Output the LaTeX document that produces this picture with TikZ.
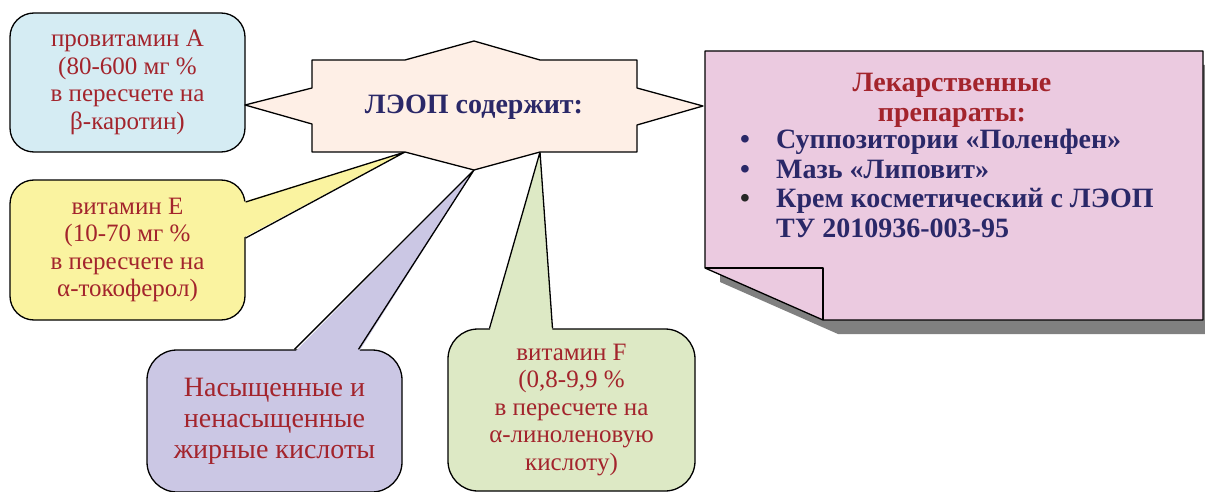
\documentclass[tikz,border=0pt]{standalone}
\usepackage{fontspec}
\setmainfont{Liberation Serif}
\usepackage{array}

\definecolor{txtred}{RGB}{163,36,44}
\definecolor{txtnavy}{RGB}{42,40,104}
\definecolor{fillblue}{RGB}{213,236,243}
\definecolor{fillyellow}{RGB}{250,243,160}
\definecolor{filllilac}{RGB}{203,199,228}
\definecolor{fillgreen}{RGB}{221,233,197}
\definecolor{fillpeach}{RGB}{254,239,230}
\definecolor{fillpink}{RGB}{235,202,224}

\tikzset{
  outline/.style={draw=black, line width=1.3pt, line join=round},
  bubble/.style={outline, rounded corners=24pt, align=center, text=txtred, inner sep=0pt,
    font=\fontsize{25}{27.5}\selectfont},
}

\begin{document}
\begin{tikzpicture}[x=1pt, y=-1pt]
\useasboundingbox[fill=white] (0,0) rectangle (1205,492);
% vertices of the star the pointers meet
\coordinate (starW) at (245,105);
\coordinate (starE) at (703,106);
\coordinate (starSW) at (405,152);
\coordinate (starS) at (474,170);
\coordinate (starSE) at (540,152);
% boxes round the star
\node[bubble, fill=fillblue, minimum width=235pt, minimum height=139pt] (provitA) at (127.5,82.5)
  {провитамин А\\(80-600 мг \%\\в пересчете на\\β-каротин)};
\node[bubble, fill=fillyellow, minimum width=235pt, minimum height=140pt] (vitE) at (127.5,250)
  {витамин Е\\(10-70 мг \%\\в пересчете на\\α-токоферол)};
\node[bubble, fill=filllilac, rounded corners=30pt, minimum width=255pt, minimum height=142pt,
  font=\fontsize{28}{31}\selectfont] (fatty) at (274.5,421)
  {Насыщенные и\\ненасыщенные\\жирные кислоты};
\node[bubble, fill=fillgreen, rounded corners=30pt, minimum width=247pt, minimum height=162pt] (vitF) at (571.5,410)
  {витамин F\\(0,8-9,9 \%\\в пересчете на\\α-линоленовую\\кислоту)};
% pointers of the callouts
\fill[fillyellow] ([shift={(-3pt,48pt)}]vitE.east) -- (starSW) -- ([shift={(-3pt,12pt)}]vitE.east) -- cycle;
\draw[outline] ([yshift=48pt]vitE.east) -- (starSW) -- ([yshift=12pt]vitE.east);
\fill[filllilac] ([shift={(20pt,-3pt)}]fatty.north) -- (starS) -- ([shift={(84pt,-3pt)}]fatty.north) -- cycle;
\draw[outline] ([xshift=20pt]fatty.north) -- (starS) -- ([xshift=84pt]fatty.north);
\fill[fillgreen] ([shift={(-82pt,-3pt)}]vitF.north) -- (starSE) -- ([shift={(-19pt,-3pt)}]vitF.north) -- cycle;
\draw[outline] ([xshift=-82pt]vitF.north) -- (starSE) -- ([xshift=-19pt]vitF.north);
% star
\draw[outline, fill=fillpeach] (312,60) -- (405,60) -- (474,41) -- (540,60) -- (637,60) -- (637,88)
  -- (starE) -- (637,125) -- (637,152) -- (starSE) -- (starS) -- (starSW) -- (312,152)
  -- (312,124) -- (starW) -- (312,88) -- cycle;
\node[text=txtnavy, font=\fontsize{28}{30}\selectfont\bfseries] (core) at (474,107) {ЛЭОП содержит:};
% note with a turned-up corner
\fill[gray] (720,65) -- (1218,65) -- (1218,334) -- (838,334) -- (720,282) -- cycle;
\draw[outline, fill=fillpink] (705,51) -- (1203,51) -- (1203,320) -- (823,320) -- (705,268) -- cycle;
\draw[outline] (705,268) -- (823,268) -- (823,320);
\node[text=txtred, align=center, font=\fontsize{28}{30}\selectfont\bfseries] (drugsTitle) at (952,100)
  {Лекарственные\\препараты:};
\node[anchor=north west, inner sep=0pt, text=txtnavy, font=\fontsize{28}{29.5}\selectfont\bfseries] (drugList) at (740,128)
  {\renewcommand{\arraystretch}{1}\setlength{\extrarowheight}{0pt}%
   \begin{tabular}{@{}p{36pt}@{}l@{}}
   • & Суппозитории «Поленфен»\\
   • & Мазь «Липовит»\\
   \textcolor{black!85}{•} & Крем косметический с ЛЭОП\\
     & ТУ 2010936-003-95
   \end{tabular}};
\end{tikzpicture}
\end{document}
